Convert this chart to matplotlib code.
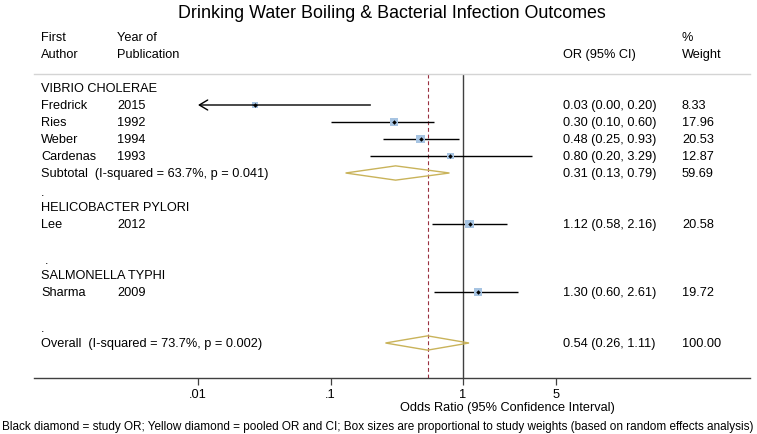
import matplotlib
matplotlib.use("Agg")
import matplotlib.pyplot as plt
from matplotlib.patches import Polygon
import numpy as np

plt.rcParams['font.family'] = ['Liberation Sans', 'DejaVu Sans']

# ---------------- data ----------------
groups = ["VIBRIO CHOLERAE", "HELICOBACTER PYLORI", "SALMONELLA TYPHI"]
authors = ["Fredrick", "Ries", "Weber", "Cardenas", "Lee", "Sharma"]
years = ["2015", "1992", "1994", "1993", "2012", "2009"]
study_group = [0, 0, 0, 0, 1, 2]
odds = [0.027, 0.30, 0.48, 0.80, 1.12, 1.30]
ci_low = [0.004, 0.10, 0.25, 0.20, 0.58, 0.60]
ci_high = [0.20, 0.60, 0.93, 3.29, 2.16, 2.61]
weights = [8.33, 17.96, 20.53, 12.87, 20.58, 19.72]

subtotal_label = "Subtotal  (I-squared = 63.7%, p = 0.041)"
subtotal_or = 0.31
subtotal_ci = (0.13, 0.79)
subtotal_weight = 59.69

overall_label = "Overall  (I-squared = 73.7%, p = 0.002)"
overall_or = 0.54
overall_ci = (0.26, 1.11)
overall_weight = 100.00

xticks = [0.01, 0.1, 1, 5]
xtick_labels = [".01", ".1", "1", "5"]
arrow_limit = 0.01

# ---------------- layout ----------------
W, H = 757, 435
fig = plt.figure(figsize=(W / 100, H / 100), dpi=100)

ppd = 132.5           # pixels per decade
x_one = 463           # pixel of OR = 1
ax_l, ax_r, ax_t, ax_b = 34, 750, 75, 379
row0, rowh = 89, 17

ax = fig.add_axes([ax_l / W, 1 - ax_b / H, (ax_r - ax_l) / W, (ax_b - ax_t) / H])
ax.set_xscale('log')
ax.set_xlim(10 ** ((ax_l - x_one) / ppd), 10 ** ((ax_r - x_one) / ppd))
ax.set_ylim((ax_b - row0) / rowh, (ax_t - row0) / rowh)
ax.set_yticks([])
ax.xaxis.set_minor_locator(matplotlib.ticker.NullLocator())
ax.set_xticks(xticks)
ax.set_xticklabels(xtick_labels)
FS = 9.15
ax.tick_params(axis='x', length=5, width=0.9, color='#404040', pad=2.0, labelsize=FS)
for s in ['left', 'right']:
    ax.spines[s].set_visible(False)
ax.spines['top'].set_color('#d4d4d4')
ax.spines['top'].set_linewidth(1.0)
ax.spines['bottom'].set_color('#404040')
ax.spines['bottom'].set_linewidth(1.0)

col_author, col_year, col_or, col_w = 41, 117, 563, 682
blend = matplotlib.transforms.blended_transform_factory(fig.transFigure, ax.transData)


def put(xpix, row, s, **kw):
    ax.text(xpix / W, row, s, transform=blend, fontsize=FS, va='center', ha='left',
            clip_on=False, **kw)


# reference lines
ax.axvline(1, color='#404040', lw=1.0, zorder=1)
ax.axvline(overall_or, color='#9a3040', lw=0.8, ls=(0, (3.5, 2.5)), zorder=1)

# header
put(col_author, -3, "First")
put(col_author, -2, "Author")
put(col_year, -3, "Year of")
put(col_year, -2, "Publication")
put(col_or, -2, "OR (95% CI)")
put(col_w, -3, "%")
put(col_w, -2, "Weight")

# rows
group_rows = [0, 7, 11]
study_rows = [1, 2, 3, 4, 8, 12]
subtotal_row = 5
overall_row = 15
dot_rows = [(6, col_author), (10, col_author + 4), (14, col_author)]

for g, r in zip(groups, group_rows):
    put(col_author, r, g)
for r, xp in dot_rows:
    put(xp, r + 0.1, ".")


def diamond(c, lo, hi, r, half=0.42):
    poly = Polygon([(lo, r), (c, r - half), (hi, r), (c, r + half)], closed=True,
                   fill=False, edgecolor='#c9b35a', lw=1.0, zorder=3)
    ax.add_patch(poly)


for i in range(len(authors)):
    r = study_rows[i]
    put(col_author, r, authors[i])
    put(col_year, r, years[i])
    put(col_or, r, f"{odds[i]:.2f} ({ci_low[i]:.2f}, {ci_high[i]:.2f})")
    put(col_w, r, f"{weights[i]:.2f}")
    if ci_low[i] < arrow_limit:
        ax.annotate('', xy=(arrow_limit, r), xytext=(ci_high[i], r),
                    arrowprops=dict(arrowstyle='->,head_length=0.5,head_width=0.3', lw=1.0,
                                    color='black', shrinkA=0, shrinkB=0, mutation_scale=12),
                    zorder=4)
    else:
        ax.plot([ci_low[i], ci_high[i]], [r, r], color='black', lw=1.0, zorder=2,
                solid_capstyle='butt')
    side_px = 1.9 * np.sqrt(weights[i])
    ax.scatter([odds[i]], [r], marker='s', s=(side_px * 0.72) ** 2, color='#a7c4e2',
               edgecolors='none', zorder=3)
    ax.plot([odds[i]], [r], marker='D', ms=2.3, color='black', mec='none', zorder=5)

# subtotal
put(col_author, subtotal_row, subtotal_label)
put(col_or, subtotal_row, f"{subtotal_or:.2f} ({subtotal_ci[0]:.2f}, {subtotal_ci[1]:.2f})")
put(col_w, subtotal_row, f"{subtotal_weight:.2f}")
diamond(subtotal_or, subtotal_ci[0], subtotal_ci[1], subtotal_row)

# overall
put(col_author, overall_row, overall_label)
put(col_or, overall_row, f"{overall_or:.2f} ({overall_ci[0]:.2f}, {overall_ci[1]:.2f})")
put(col_w, overall_row, f"{overall_weight:.2f}")
diamond(overall_or, overall_ci[0], overall_ci[1], overall_row)

# titles
fig.text(392 / W, 1 - 14 / H, "Drinking Water Boiling & Bacterial Infection Outcomes",
         ha='center', va='center', fontsize=12.9)
fig.text(507 / W, 1 - 408 / H, "Odds Ratio (95% Confidence Interval)",
         ha='center', va='center', fontsize=FS)
fig.text(378 / W, 1 - 427 / H,
         "Black diamond = study OR; Yellow diamond = pooled OR and CI; Box sizes are proportional to study weights (based on random effects analysis)",
         ha='center', va='center', fontsize=8.5)

fig.savefig("out.png", dpi=100)
